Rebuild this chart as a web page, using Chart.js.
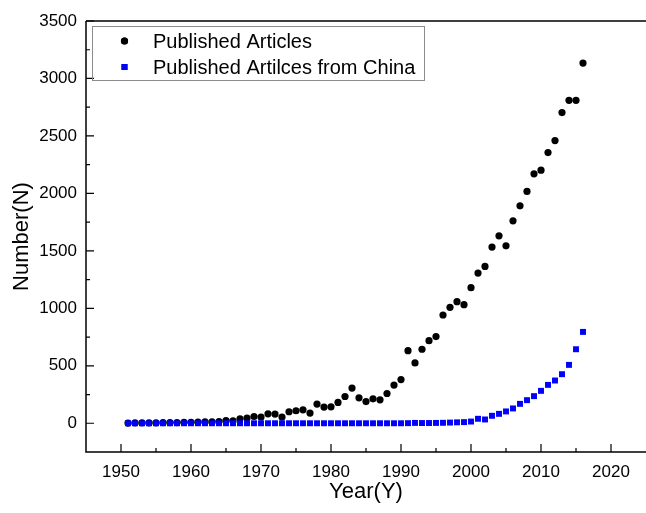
<!DOCTYPE html>
<html>
<head>
<meta charset="utf-8">
<script src="https://cdn.jsdelivr.net/npm/chart.js@4/dist/chart.umd.min.js"></script>
<style>
  html, body { margin: 0; padding: 0; background: #fff; }
  #wrap { width: 646px; height: 513px; }
</style>
</head>
<body>
<div id="wrap"><canvas id="articleChart" width="646" height="513"></canvas></div>
<script>
// Years 1951 - 2016
const years = [
    1951, 1952, 1953, 1954, 1955, 1956, 1957, 1958, 1959, 1960,
    1961, 1962, 1963, 1964, 1965, 1966, 1967, 1968, 1969, 1970,
    1971, 1972, 1973, 1974, 1975, 1976, 1977, 1978, 1979, 1980,
    1981, 1982, 1983, 1984, 1985, 1986, 1987, 1988, 1989, 1990,
    1991, 1992, 1993, 1994, 1995, 1996, 1997, 1998, 1999, 2000,
    2001, 2002, 2003, 2004, 2005, 2006, 2007, 2008, 2009, 2010,
    2011, 2012, 2013, 2014, 2015, 2016
];

// Published articles (all)
const articles = [
    2, 3, 3, 4, 4, 5, 6, 6, 8, 8,
    10, 12, 12, 15, 24, 20, 39, 45, 59, 54,
    82, 80, 54, 100, 109, 117, 89, 167, 141, 143,
    181, 233, 306, 221, 189, 213, 204, 259, 332, 380,
    632, 525, 644, 719, 754, 942, 1009, 1058, 1032, 1180,
    1307, 1365, 1533, 1631, 1544, 1761, 1892, 2017, 2170, 2202,
    2355, 2460, 2703, 2810, 2810, 3134
];

// Published articles from China
const chinaArticles = [
    0, 0, 0, 0, 0, 0, 0, 0, 0, 0,
    0, 0, 0, 0, 0, 0, 0, 0, 0, 0,
    0, 0, 0, 0, 0, 0, 0, 0, 0, 0,
    0, 0, 0, 0, 0, 0, 0, 0, 0, 0,
    1, 3, 2, 2, 3, 4, 6, 8, 10, 15,
    39, 33, 65, 82, 103, 129, 169, 201, 236, 282,
    334, 372, 427, 508, 644, 795
];

const seriesLabels = ['Published Articles', 'Published Artilces from China'];
const xTickValues = [1950, 1960, 1970, 1980, 1990, 2000, 2010, 2020];
const yTickValues = [0, 500, 1000, 1500, 2000, 2500, 3000, 3500];

const FONT = "'Liberation Sans', Arial, sans-serif";

// Frame, inward ticks and boxed legend
const framePlugin = {
    id: 'frame',
    afterDraw(chart) {
        const ctx = chart.ctx;
        const area = chart.chartArea;
        const xs = chart.scales.x;
        const ys = chart.scales.y;
        ctx.save();
        ctx.strokeStyle = '#000';
        ctx.lineWidth = 1.5;
        ctx.beginPath();
        ctx.moveTo(area.left, area.top);
        ctx.lineTo(area.right, area.top);
        ctx.moveTo(area.left, area.top);
        ctx.lineTo(area.left, area.bottom);
        ctx.lineTo(area.right, area.bottom);
        ctx.stroke();

        ctx.lineWidth = 1.2;
        ctx.beginPath();
        xTickValues.forEach((v) => {
            const px = xs.getPixelForValue(v);
            ctx.moveTo(px, area.bottom);
            ctx.lineTo(px, area.bottom - 8);
            const mx = xs.getPixelForValue(v + 5);
            if (mx < area.right) {
                ctx.moveTo(mx, area.bottom);
                ctx.lineTo(mx, area.bottom - 4);
            }
        });
        yTickValues.forEach((v) => {
            const py = ys.getPixelForValue(v);
            ctx.moveTo(area.left, py);
            ctx.lineTo(area.left + 8, py);
            const my = ys.getPixelForValue(v - 250);
            if (my < area.bottom) {
                ctx.moveTo(area.left, my);
                ctx.lineTo(area.left + 4, my);
            }
        });
        ctx.stroke();

        // legend
        ctx.strokeStyle = '#8c8c8c';
        ctx.lineWidth = 1;
        ctx.strokeRect(92.5, 26.5, 332, 54);
        ctx.font = '20px ' + FONT;
        ctx.fillStyle = '#000';
        ctx.textBaseline = 'middle';
        ctx.textAlign = 'left';
        chart.data.datasets.forEach((ds, i) => {
            const cy = 41 + i * 26;
            Chart.helpers.drawPoint(ctx, {
                pointStyle: ds.pointStyle,
                radius: ds.pointRadius,
                borderWidth: 0
            }, 124.5, cy);
            ctx.fillStyle = ds.backgroundColor;
            ctx.fill();
            ctx.fillStyle = '#000';
            ctx.fillText(ds.label, 153, cy + 1);
        });
        ctx.restore();
    }
};

new Chart(document.getElementById('articleChart').getContext('2d'), {
    type: 'scatter',
    data: {
        datasets: [{
            label: seriesLabels[0],
            data: years.map((y, i) => ({ x: y, y: articles[i] })),
            pointStyle: 'circle',
            pointRadius: 3.6,
            backgroundColor: '#000000',
            borderWidth: 0,
            order: 2
        }, {
            label: seriesLabels[1],
            data: years.map((y, i) => ({ x: y, y: chinaArticles[i] })),
            pointStyle: 'rect',
            pointRadius: 4.2,
            backgroundColor: '#0000ff',
            borderWidth: 0,
            order: 1
        }]
    },
    options: {
        responsive: false,
        animation: false,
        layout: { autoPadding: false, padding: { top: 21, right: 0, left: 0, bottom: 0 } },
        plugins: {
            legend: { display: false },
            tooltip: { enabled: false }
        },
        scales: {
            x: {
                type: 'linear',
                min: 1945,
                max: 2025,
                afterFit: (scale) => {
                    scale.height = 61;
                    scale.paddingLeft = 0;
                    scale.paddingRight = 0;
                },
                afterBuildTicks: (scale) => { scale.ticks = xTickValues.map(v => ({ value: v })); },
                grid: { display: false, drawTicks: false },
                border: { display: false },
                ticks: {
                    padding: 10,
                    color: '#000',
                    font: { family: FONT, size: 17 },
                    callback: (v) => String(v)
                },
                title: {
                    display: true,
                    text: 'Year(Y)',
                    color: '#000',
                    font: { family: FONT, size: 22, lineHeight: 1.2 },
                    padding: { top: 0, bottom: 8 }
                }
            },
            y: {
                type: 'linear',
                min: -250,
                max: 3500,
                afterFit: (scale) => {
                    scale.width = 86;
                    scale.paddingTop = 0;
                    scale.paddingBottom = 0;
                },
                afterBuildTicks: (scale) => { scale.ticks = yTickValues.map(v => ({ value: v })); },
                grid: { display: false, drawTicks: false },
                border: { display: false },
                ticks: {
                    padding: 9,
                    color: '#000',
                    font: { family: FONT, size: 17 },
                    callback: (v) => String(v)
                },
                title: {
                    display: true,
                    text: 'Number(N)',
                    color: '#000',
                    font: { family: FONT, size: 22, lineHeight: 1.2 },
                    padding: { top: 9, bottom: 0 }
                }
            }
        }
    },
    plugins: [framePlugin]
});
</script>
</body>
</html>
